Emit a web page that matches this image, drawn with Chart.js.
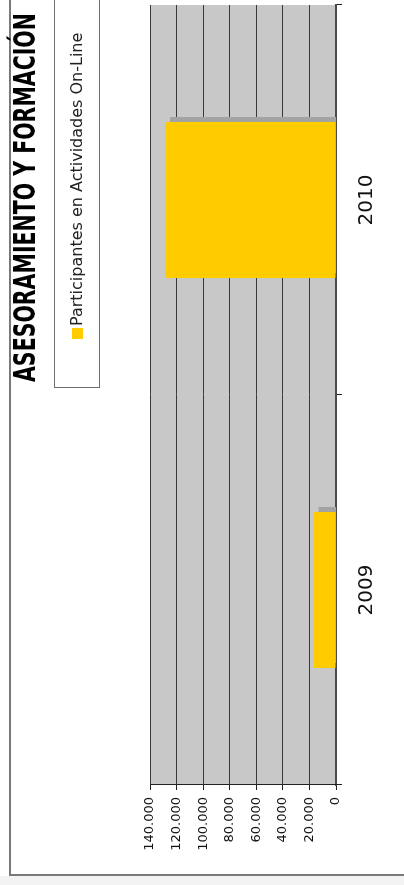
<!DOCTYPE html>
<html lang="es">
<head>
<meta charset="utf-8">
<title>Asesoramiento y Formación</title>
<script src="https://cdn.jsdelivr.net/npm/chart.js@4/dist/chart.umd.min.js"></script>
<style>
  html, body { margin: 0; padding: 0; background: #fff; overflow: hidden; }
  body { width: 404px; height: 885px; position: relative; }
  /* la hoja entera está girada 90° a la izquierda */
  #hoja {
    position: absolute; left: 0; top: 0;
    width: 885px; height: 404px;
    transform-origin: 0 0;
    transform: translate(0, 885px) rotate(-90deg);
    background: #fff;
    font-family: "DejaVu Sans", Verdana, sans-serif;
  }
  #franja { position: absolute; left: 0; top: 0; width: 9px; height: 404px; background: #f3f3f3; }
  #marco {
    position: absolute; left: 9px; top: 9px; width: 900px; height: 420px;
    border-left: 2px solid #7a7a7a; border-top: 2px solid #7a7a7a;
  }
  #titulo {
    position: absolute; left: 503px; top: 8px; white-space: nowrap;
    font-weight: bold; font-size: 20.5px; color: #000;
    transform-origin: 0 0; transform: scaleY(1.43);
  }
  #leyenda {
    position: absolute; left: 497px; top: 54px; width: 420px; height: 46px;
    border: 1px solid #6e6e6e; box-sizing: border-box; background: #fff;
  }
  #leyenda .cuadro {
    position: absolute; left: 48px; top: 17px; width: 11px; height: 11px; background: #ffcc00;
  }
  #leyenda .texto {
    position: absolute; left: 61px; top: 12px; font-size: 16px; color: #222; white-space: nowrap;
  }
  #grafico { position: absolute; left: 0; top: 0; }
</style>
</head>
<body>
<div id="hoja">
  <div id="franja"></div>
  <div id="marco"></div>
  <canvas id="grafico" width="885" height="404"></canvas>
  <div id="titulo">ASESORAMIENTO Y FORMACIÓN</div>
  <div id="leyenda"><span class="cuadro"></span><span class="texto" id="leyenda-texto"></span></div>
</div>
<script>
const anios = ["2009", "2010"];
const participantes = [17000, 128700];
const nombreSerie = "Participantes en Actividades On-Line";
const ticksValores = [0, 20000, 40000, 60000, 80000, 100000, 120000, 140000];

document.getElementById("leyenda-texto").textContent = nombreSerie;

// formato con punto de miles: 140.000
function formatoMiles(v) {
  return String(v).replace(/\B(?=(\d{3})+(?!\d))/g, ".");
}

// fondo gris del área de trazado
const fondoGris = {
  id: "fondoGris",
  beforeDraw(chart) {
    const a = chart.chartArea;
    const ctx = chart.ctx;
    ctx.save();
    ctx.fillStyle = "#c8c8c8";
    ctx.fillRect(a.left, a.top, a.right - a.left, a.bottom - a.top);
    ctx.restore();
  },
};

// sombra gris detrás de las barras
const sombra = {
  id: "sombra",
  beforeDatasetsDraw(chart) {
    const ctx = chart.ctx;
    ctx.save();
    ctx.shadowColor = "#a3a3a3";
    ctx.shadowOffsetX = 5;
    ctx.shadowOffsetY = 5;
    ctx.shadowBlur = 0;
  },
  afterDatasetsDraw(chart) {
    chart.ctx.restore();
  },
};

new Chart(document.getElementById("grafico"), {
  type: "bar",
  data: {
    labels: anios,
    datasets: [
      {
        label: nombreSerie,
        data: participantes,
        backgroundColor: "#ffcc00",
        borderWidth: 0,
        categoryPercentage: 1,
        barPercentage: 0.4,
      },
    ],
  },
  options: {
    responsive: false,
    animation: false,
    layout: { padding: { top: 150, right: 5, left: 0, bottom: 0 } },
    plugins: {
      legend: { display: false },
      title: { display: false },
      tooltip: { enabled: false },
    },
    scales: {
      x: {
        z: 1,
        grid: {
          offset: true,
          drawOnChartArea: false,
          drawTicks: true,
          tickLength: 6,
          tickColor: "#222",
        },
        border: { display: true, color: "#4a4a4a", width: 2 },
        ticks: {
          color: "#111",
          padding: 13,
          font: { family: "DejaVu Sans", size: 20 },
        },
        afterFit(scale) { scale.height = 68; },
      },
      y: {
        min: 0,
        max: 140000,
        afterBuildTicks(scale) {
          scale.ticks = ticksValores.map((v) => ({ value: v }));
        },
        grid: {
          color: "#3a3a3a",
          lineWidth: 1,
          tickLength: 5,
          tickColor: "#222",
        },
        border: { display: true, color: "#222", width: 1 },
        ticks: {
          color: "#111",
          padding: 7,
          font: { family: "DejaVu Sans", size: 13 },
          callback: (v) => formatoMiles(v),
        },
        afterFit(scale) { scale.width = 100; },
      },
    },
  },
  plugins: [fondoGris, sombra],
});
</script>
</body>
</html>
